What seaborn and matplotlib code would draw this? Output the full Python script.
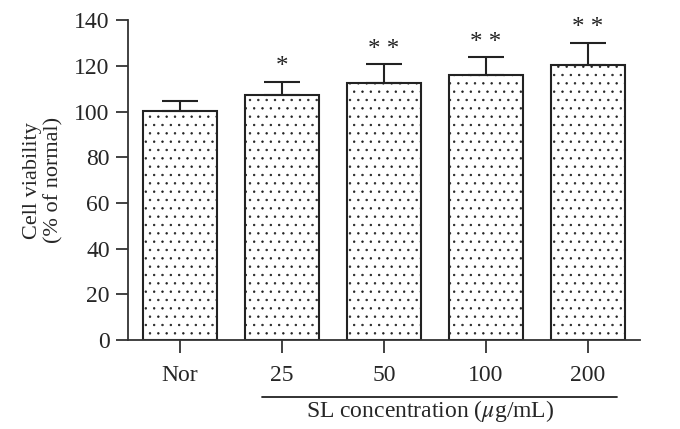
import matplotlib
matplotlib.use('Agg')
import matplotlib.pyplot as plt
import seaborn as sns
import pandas as pd

# ── Data ──────────────────────────────────────────────────────────────────
groups    = ["Nor", "25", "50", "100", "200"]
viability = [100.3, 107.3, 112.6, 115.8, 120.2]
err_upper = [4.2, 5.7, 8.2, 8.0, 10.0]
stars     = ["", "*", "**", "**", "**"]

df = pd.DataFrame({"group": groups, "viability": viability})

sns.set_style("ticks")
plt.rcParams['font.family'] = ['Liberation Serif', 'DejaVu Serif']
plt.rcParams['mathtext.fontset'] = 'stix'
plt.rcParams['hatch.linewidth'] = 0.5

fig = plt.figure(figsize=(6.8, 4.29), dpi=100)
ax = fig.add_axes([0.188, 0.207, 0.753, 0.746])

sns.barplot(data=df, x="group", y="viability", ax=ax, color="white",
            edgecolor="black", linewidth=1.5, width=0.72, errorbar=None)
for p in ax.patches:
    p.set_hatch("..")
    p.set_edgecolor("#222222")

ax.errorbar(range(len(groups)), viability,
            yerr=[[0] * len(groups), err_upper],
            fmt="none", ecolor="#222222", elinewidth=1.5, capsize=13, capthick=1.5)

for i, s in enumerate(stars):
    if s:
        ax.text(i, viability[i] + err_upper[i] + 1.5, " ".join(s),
                ha="center", va="bottom", fontsize=18, color="#222222")

ax.set_xlim(-0.51, 4.51)
ax.set_ylim(0, 140)
ax.set_yticks(range(0, 141, 20))
ax.set_xlabel("")
ax.set_ylabel("Cell viability\n(% of normal)", fontsize=16, labelpad=8,
              linespacing=1.1)
ax.tick_params(axis="both", labelsize=17, length=9, width=1.3, color="#333333")
ax.tick_params(axis="x", pad=9)
ax.tick_params(axis="y", pad=4)
sns.despine(ax=ax)
for sp in ["left", "bottom"]:
    ax.spines[sp].set_linewidth(1.3)
    ax.spines[sp].set_color("#333333")

# bracket line under the SL concentration groups
trans = ax.get_xaxis_transform()
ax.plot([0.81, 4.29], [-0.177, -0.177], transform=trans, color="#222222",
        lw=1.3, clip_on=False)
ax.text(2.45, -0.222, r"SL concentration ($\mu$g/mL)", transform=trans,
        ha="center", va="center", fontsize=17)

fig.savefig("out.png", dpi=100)
